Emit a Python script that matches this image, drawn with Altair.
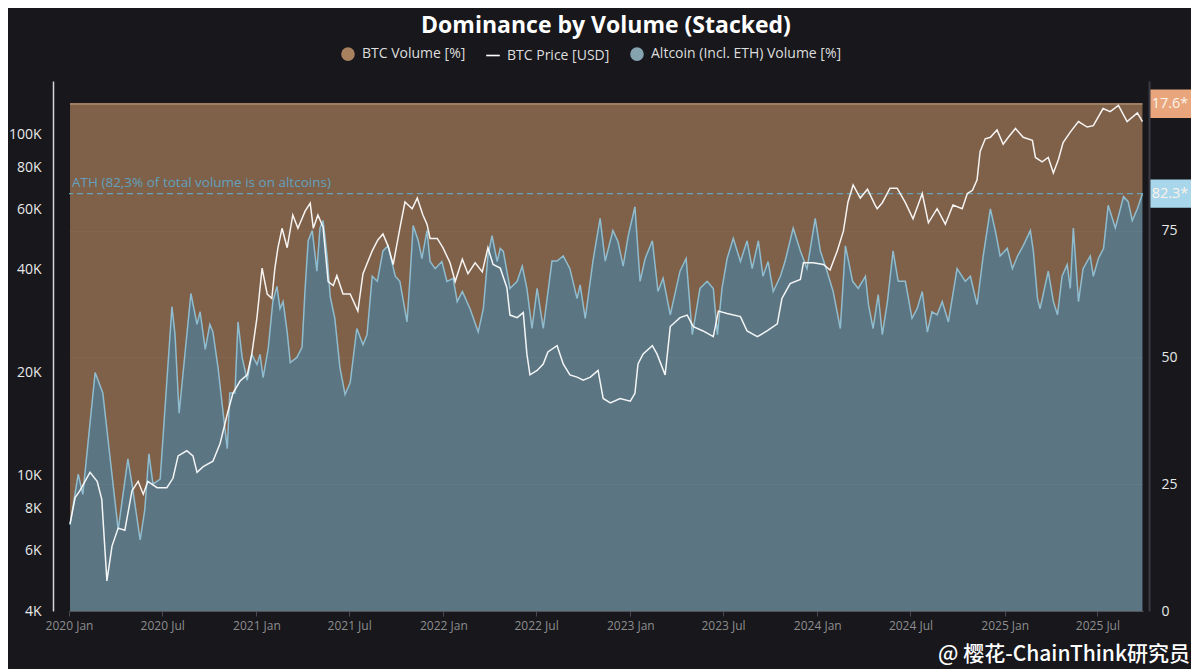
import altair as alt
import pandas as pd

# ---------------- data ----------------
alt_dates = [
    "2020-01-03", "2020-01-19", "2020-01-28", "2020-02-21", "2020-03-07", "2020-04-06", "2020-04-25", "2020-05-03",
    "2020-05-19", "2020-05-28", "2020-06-05", "2020-06-13", "2020-06-27", "2020-07-20", "2020-07-26", "2020-08-03",
    "2020-08-26", "2020-09-07", "2020-09-13", "2020-09-23", "2020-10-02", "2020-10-08", "2020-10-18", "2020-10-28",
    "2020-11-05", "2020-11-10", "2020-11-20", "2020-11-26", "2020-12-04", "2020-12-14", "2020-12-23", "2021-01-02",
    "2021-01-08", "2021-01-14", "2021-01-24", "2021-02-02", "2021-02-10", "2021-02-16", "2021-02-22", "2021-03-02",
    "2021-03-08", "2021-03-21", "2021-03-31", "2021-04-06", "2021-04-12", "2021-04-20", "2021-04-29", "2021-05-05",
    "2021-05-11", "2021-05-19", "2021-05-25", "2021-06-03", "2021-06-13", "2021-06-23", "2021-07-03", "2021-07-16",
    "2021-07-28", "2021-08-05", "2021-08-15", "2021-08-25", "2021-09-05", "2021-09-15", "2021-09-29", "2021-10-08",
    "2021-10-22", "2021-10-28", "2021-11-03", "2021-11-13", "2021-11-20", "2021-11-30", "2021-12-06", "2021-12-16",
    "2021-12-29", "2022-01-08", "2022-01-20", "2022-01-28", "2022-02-07", "2022-02-22", "2022-03-10", "2022-03-20",
    "2022-03-29", "2022-04-06", "2022-04-16", "2022-04-22", "2022-04-28", "2022-05-11", "2022-05-25", "2022-06-04",
    "2022-06-13", "2022-06-23", "2022-07-03", "2022-07-15", "2022-08-01", "2022-08-11", "2022-08-23", "2022-09-05",
    "2022-09-19", "2022-09-25", "2022-10-05", "2022-10-20", "2022-11-03", "2022-11-13", "2022-11-28", "2022-12-08",
    "2022-12-18", "2022-12-28", "2023-01-10", "2023-01-20", "2023-01-30", "2023-02-13", "2023-02-24", "2023-03-06",
    "2023-03-20", "2023-04-08", "2023-04-20", "2023-05-02", "2023-05-17", "2023-05-31", "2023-06-12", "2023-06-20",
    "2023-06-29", "2023-07-09", "2023-07-21", "2023-08-04", "2023-08-17", "2023-08-27", "2023-09-08", "2023-09-17",
    "2023-09-27", "2023-10-07", "2023-10-21", "2023-10-30", "2023-11-15", "2023-11-29", "2023-12-12", "2023-12-28",
    "2024-01-07", "2024-01-20", "2024-02-01", "2024-02-15", "2024-02-25", "2024-03-10", "2024-03-21", "2024-04-04",
    "2024-04-10", "2024-04-19", "2024-04-29", "2024-05-07", "2024-05-17", "2024-05-28", "2024-06-07", "2024-06-21",
    "2024-07-04", "2024-07-14", "2024-07-24", "2024-08-03", "2024-08-12", "2024-08-22", "2024-09-01", "2024-09-13",
    "2024-09-30", "2024-10-16", "2024-10-26", "2024-11-08", "2024-11-20", "2024-12-04", "2024-12-14", "2024-12-23",
    "2025-01-06", "2025-01-16", "2025-01-26", "2025-02-06", "2025-02-20", "2025-02-26", "2025-03-06", "2025-03-11",
    "2025-03-27", "2025-04-06", "2025-04-14", "2025-04-23", "2025-05-03", "2025-05-09", "2025-05-15", "2025-05-25",
    "2025-06-03", "2025-06-17", "2025-06-23", "2025-07-03", "2025-07-13", "2025-07-22", "2025-08-05", "2025-08-21",
    "2025-08-30", "2025-09-07", "2025-09-17", "2025-09-27",
]
alt_share = [
    17, 27, 23, 47, 43, 16, 30, 25,
    14, 20, 31, 25, 26, 60, 54.5, 39,
    62.6, 56.5, 59, 51.6, 56.5, 55, 48, 39,
    32, 43, 43, 57, 50, 45.5, 50.6, 48.6,
    50.6, 46, 51.8, 61, 64, 59.6, 61, 55,
    49, 50, 52, 63.6, 73, 75, 67, 75.5,
    77, 70, 62, 57.7, 48, 42.7, 45, 55.7,
    52.5, 54.5, 66, 65, 71, 72, 66, 65,
    57, 66, 76, 73, 69.5, 75, 68.9, 67.5,
    68.9, 65, 65.6, 61, 63, 59.6, 55, 59.6,
    70, 74, 68.9, 71.5, 70.9, 63.6, 65, 68,
    63.6, 55.7, 63.6, 55.7, 69, 69, 70, 67.5,
    61.6, 64.3, 57.7, 69, 77.4, 69, 75, 72.8,
    68, 74, 79.7, 65, 69.5, 73, 63, 65.6,
    58.4, 67, 69.5, 54.5, 63.6, 65, 63.6, 54.5,
    63.6, 69.5, 73.5, 68.9, 73, 67.5, 73, 66,
    68.9, 63, 66, 68.9, 75.5, 71, 67.5, 77.4,
    71, 67, 63, 55.7, 72, 65, 63.6, 66,
    60.4, 55.7, 62.4, 54.5, 61, 71, 65, 65,
    57.7, 59.6, 63, 55, 59, 58.4, 61, 57,
    67.5, 65, 66, 60.4, 70, 79.3, 74.8, 70,
    71.5, 67.5, 70, 72, 75, 70.9, 61.6, 59.6,
    67, 61, 58.4, 66, 68.3, 63.6, 75.5, 61,
    67.5, 70, 66, 69.5, 71.5, 80, 75.5, 81.7,
    80.7, 77, 79.3, 82.3,
]

price_dates = [
    "2020-01-03", "2020-01-13", "2020-01-22", "2020-02-11", "2020-02-25", "2020-03-05", "2020-03-15", "2020-03-25",
    "2020-04-06", "2020-04-19", "2020-05-03", "2020-05-15", "2020-05-25", "2020-06-03", "2020-06-21", "2020-07-10",
    "2020-07-22", "2020-08-01", "2020-08-18", "2020-08-30", "2020-09-07", "2020-09-19", "2020-10-08", "2020-10-22",
    "2020-11-05", "2020-11-16", "2020-11-30", "2020-12-14", "2020-12-23", "2021-01-02", "2021-01-12", "2021-01-22",
    "2021-01-31", "2021-02-06", "2021-02-12", "2021-02-20", "2021-03-02", "2021-03-13", "2021-03-23", "2021-04-06",
    "2021-04-16", "2021-04-22", "2021-05-01", "2021-05-11", "2021-05-21", "2021-05-31", "2021-06-07", "2021-06-19",
    "2021-07-03", "2021-07-18", "2021-07-28", "2021-08-15", "2021-08-26", "2021-09-05", "2021-09-15", "2021-09-25",
    "2021-10-08", "2021-10-18", "2021-11-01", "2021-11-11", "2021-11-22", "2021-11-30", "2021-12-06", "2021-12-20",
    "2021-12-31", "2022-01-14", "2022-01-24", "2022-02-07", "2022-02-18", "2022-03-04", "2022-03-18", "2022-03-29",
    "2022-04-08", "2022-04-22", "2022-05-05", "2022-05-11", "2022-05-25", "2022-06-06", "2022-06-13", "2022-06-19",
    "2022-07-03", "2022-07-15", "2022-07-24", "2022-08-11", "2022-08-23", "2022-09-05", "2022-09-19", "2022-10-01",
    "2022-10-15", "2022-10-30", "2022-11-09", "2022-11-23", "2022-12-12", "2023-01-01", "2023-01-10", "2023-01-16",
    "2023-01-26", "2023-02-13", "2023-02-22", "2023-03-10", "2023-03-20", "2023-04-08", "2023-04-22", "2023-05-04",
    "2023-05-23", "2023-06-12", "2023-06-22", "2023-07-09", "2023-08-04", "2023-08-17", "2023-09-06", "2023-09-25",
    "2023-10-15", "2023-10-24", "2023-11-09", "2023-11-29", "2023-12-05", "2023-12-24", "2024-01-13", "2024-01-26",
    "2024-02-09", "2024-02-21", "2024-03-01", "2024-03-11", "2024-03-25", "2024-04-08", "2024-04-23", "2024-04-27",
    "2024-05-07", "2024-05-22", "2024-06-05", "2024-06-21", "2024-07-06", "2024-07-24", "2024-08-05", "2024-08-22",
    "2024-09-07", "2024-09-22", "2024-10-10", "2024-10-20", "2024-10-30", "2024-11-08", "2024-11-14", "2024-11-24",
    "2024-12-04", "2024-12-17", "2024-12-29", "2025-01-08", "2025-01-22", "2025-02-06", "2025-02-24", "2025-03-02",
    "2025-03-15", "2025-03-27", "2025-04-06", "2025-04-16", "2025-04-25", "2025-05-09", "2025-05-25", "2025-06-11",
    "2025-06-23", "2025-07-12", "2025-07-26", "2025-08-11", "2025-08-28", "2025-09-17", "2025-09-27",
]
price_usd = [
    7200, 8600, 9000, 10200, 9600, 8500, 4900, 6200,
    7000, 6900, 9000, 9600, 8800, 9600, 9200, 9200,
    9800, 11400, 11800, 11400, 10200, 10600, 11000, 12400,
    15100, 17400, 18900, 19700, 22700, 29000, 40500, 34000,
    33000, 40500, 46500, 53000, 46500, 58000, 53000, 59500,
    62800, 53000, 58000, 53500, 37000, 36000, 38500, 34000,
    34000, 30300, 39000, 45500, 49000, 51000, 47000, 41500,
    53000, 63300, 60500, 65000, 58000, 54500, 49500, 49500,
    46500, 42000, 37000, 43000, 39000, 42000, 39500, 46500,
    41500, 40500, 35500, 29500, 29000, 30000, 22700, 19700,
    20300, 21200, 23000, 24000, 21200, 19700, 19400, 19000,
    19400, 20300, 16800, 16300, 16800, 16500, 17400, 21200,
    22700, 24000, 22700, 19700, 27300, 29000, 29500, 27300,
    26500, 25500, 30300, 29800, 29200, 26500, 25500, 26500,
    27800, 33000, 36500, 37500, 42000, 42000, 41500, 40000,
    45500, 52000, 63300, 71000, 65000, 69000, 62000, 60500,
    63000, 69500, 69500, 63000, 56500, 67000, 55000, 60500,
    54500, 62000, 60500, 67000, 68500, 73500, 89000, 97000,
    98000, 103000, 93500, 98000, 104000, 98000, 96000, 85500,
    83000, 85500, 77000, 84500, 94500, 101500, 109000, 105000,
    106000, 119000, 116500, 121500, 109000, 115500, 109000,
]

series_names = ["BTC Volume [%]", "BTC Price [USD]", "Altcoin (Incl. ETH) Volume [%]"]
ath_value = [82.3]
ath_text = ["ATH (82,3% of total volume is on altcoins)"]
last_labels = ["17.6*", "82.3*"]
last_positions = [100, 82.3]          # stacked top of BTC and altcoin series
left_ticks = [4000, 6000, 8000, 10000, 20000, 40000, 60000, 80000, 100000]
right_ticks = [0, 25, 50, 75]
tick_years = [2020, 2021, 2022, 2023, 2024, 2025]
tick_months = [1, 7]
watermark_text = ["@ 樱花-ChainThink研究员"]
title_text = "Dominance by Volume (Stacked)"

# ---------------- styling ----------------
FONT = "Open Sans"
BG = "#17171c"
W, H = 1074, 530
LINE_SYMBOL = "M-1,-0.12L1,-0.12L1,0.12L-1,0.12Z"

vol_df = pd.DataFrame({"date": alt_dates, "altcoin": alt_share})
vol_df["btc"] = 100 - vol_df["altcoin"]
price_df = pd.DataFrame({"date": price_dates, "price": price_usd})
ath_df = pd.DataFrame({"ath": ath_value, "label": ath_text})
labels_df = pd.DataFrame({"label": last_labels, "pos": last_positions})
wm_df = pd.DataFrame({"t": watermark_text})
legend_df = pd.DataFrame({"series": series_names, "none": [None] * len(series_names)})

x_ticks = [alt.DateTime(year=y, month=m, date=1) for y in tick_years for m in tick_months]
x_enc = alt.X(
    "date:T",
    scale=alt.Scale(domain=[alt.DateTime(year=2020, month=1, date=1),
                            alt.DateTime(year=2025, month=9, date=28)]),
    axis=alt.Axis(values=x_ticks, format="%Y %b", labelColor="#8e8e8e", labelFontSize=12,
                  labelFont=FONT, tickColor="#4a4a52", tickSize=5, domainColor="#4a4a52",
                  grid=False, title=None, labelPadding=4, labelFlush=False),
)

pct_scale = alt.Scale(domain=[0, 104.5], nice=False, zero=True)
right_axis = alt.Axis(orient="right", values=right_ticks, labelColor="#e8e8e8", labelFontSize=14,
                      labelFont=FONT, offset=6, domainColor="#3a3a44", domainWidth=2, ticks=False,
                      grid=True, gridColor="#ffffff", gridOpacity=0.045, labelPadding=12,
                      title=None, zindex=1)
left_axis = alt.Axis(orient="left", values=left_ticks, labelExpr="(datum.value / 1000) + 'K'",
                     labelColor="#e8e8e8", labelFontSize=14, labelFont=FONT, offset=16,
                     domainColor="#d6d6d6", domainWidth=1.5, ticks=False, grid=False,
                     labelPadding=12, title=None)

legend = alt.Legend(title=None, orient="none", legendX=271, legendY=-35, direction="horizontal",
                    symbolSize=185, labelFontSize=14, labelColor="#dedede", labelFont=FONT,
                    columnPadding=17, labelOffset=6, symbolOpacity=1, labelLimit=400)

# ---------------- volume layers (right axis) ----------------
brown_area = (
    alt.Chart(vol_df)
    .transform_calculate(top="datum.altcoin + datum.btc")
    .mark_area(color="#7f6049")
    .encode(x=x_enc, y=alt.Y("top:Q", scale=pct_scale, axis=right_axis), y2="altcoin:Q")
)

blue_area = (
    alt.Chart(vol_df)
    .mark_area(color="#5b7582")
    .encode(x=x_enc, y=alt.Y("altcoin:Q", scale=pct_scale, axis=right_axis))
)

top_line = (
    alt.Chart(vol_df)
    .transform_calculate(top="datum.altcoin + datum.btc")
    .mark_line(color="#c29b7b", strokeWidth=1.3)
    .encode(x=x_enc, y=alt.Y("top:Q", scale=pct_scale, axis=right_axis))
)

alt_line = (
    alt.Chart(vol_df)
    .mark_line(color="#8fbdcf", strokeWidth=1.5)
    .encode(x=x_enc, y=alt.Y("altcoin:Q", scale=pct_scale, axis=right_axis))
)

ath_rule = (
    alt.Chart(ath_df)
    .mark_rule(color="#6aa2b9", strokeDash=[6, 4], strokeWidth=1.3)
    .encode(y=alt.Y("ath:Q", scale=pct_scale, axis=right_axis))
)

ath_label = (
    alt.Chart(ath_df)
    .mark_text(align="left", baseline="middle", dy=-11, color="#62a0bd", fontSize=13.5, font=FONT)
    .encode(x=alt.value(3), y=alt.Y("ath:Q", scale=pct_scale, axis=right_axis), text="label:N")
)

boxes = (
    alt.Chart(labels_df)
    .transform_calculate(lo="datum.pos - 2.8", hi="datum.pos + 2.8")
    .mark_rect()
    .encode(
        x=alt.value(W + 6), x2=alt.value(W + 48),
        y=alt.Y("lo:Q", scale=pct_scale, axis=right_axis), y2="hi:Q",
        fill=alt.Fill("label:N", scale=alt.Scale(domain=last_labels, range=["#e9a67c", "#a8d6ea"]),
                      legend=None),
    )
)

box_text = (
    alt.Chart(labels_df)
    .mark_text(align="center", baseline="middle", fontSize=14.5, font=FONT, color="#fbf3ec")
    .encode(x=alt.value(W + 27), y=alt.Y("pos:Q", scale=pct_scale, axis=right_axis), text="label:N")
)

legend_layer = (
    alt.Chart(legend_df)
    .mark_point(filled=True, opacity=1)
    .encode(
        y=alt.Y("none:Q", scale=pct_scale, axis=right_axis),
        color=alt.Color("series:N", scale=alt.Scale(domain=series_names,
                                                     range=["#a8815f", "#ffffff", "#86a4b0"]),
                        legend=legend),
        shape=alt.Shape("series:N", scale=alt.Scale(domain=series_names,
                                                     range=["circle", LINE_SYMBOL, "circle"]),
                        legend=legend),
    )
)

vol_layers = alt.layer(brown_area, blue_area, top_line, alt_line, ath_rule, ath_label,
                       boxes, box_text, legend_layer)

# ---------------- price layer (left log axis) ----------------
price = (
    alt.Chart(price_df)
    .mark_line(strokeWidth=1.5, opacity=0.93, color="#ffffff")
    .encode(
        x=x_enc,
        y=alt.Y("price:Q", scale=alt.Scale(type="log", domain=[4000, 143300], nice=False),
                axis=left_axis),
    )
)

watermark = (
    alt.Chart(wm_df)
    .mark_text(align="right", baseline="middle", fontSize=21, font="Noto Sans CJK SC",
               color="#ffffff", fontWeight=500)
    .encode(x=alt.value(W + 47), y=alt.value(H + 44), text="t:N")
)

chart = (
    alt.layer(vol_layers, price, watermark)
    .resolve_scale(y="independent")
    .properties(
        width=W, height=H,
        padding={"left": 0, "top": 7, "right": 0, "bottom": 4},
        background=BG,
        title=alt.TitleParams(title_text, fontSize=23, fontWeight="bold", color="#ffffff",
                              font=FONT, anchor="middle", offset=8),
    )
    .configure_view(stroke=None)
)

chart.save("out.html", embed_options={"renderer": "svg", "actions": False})
